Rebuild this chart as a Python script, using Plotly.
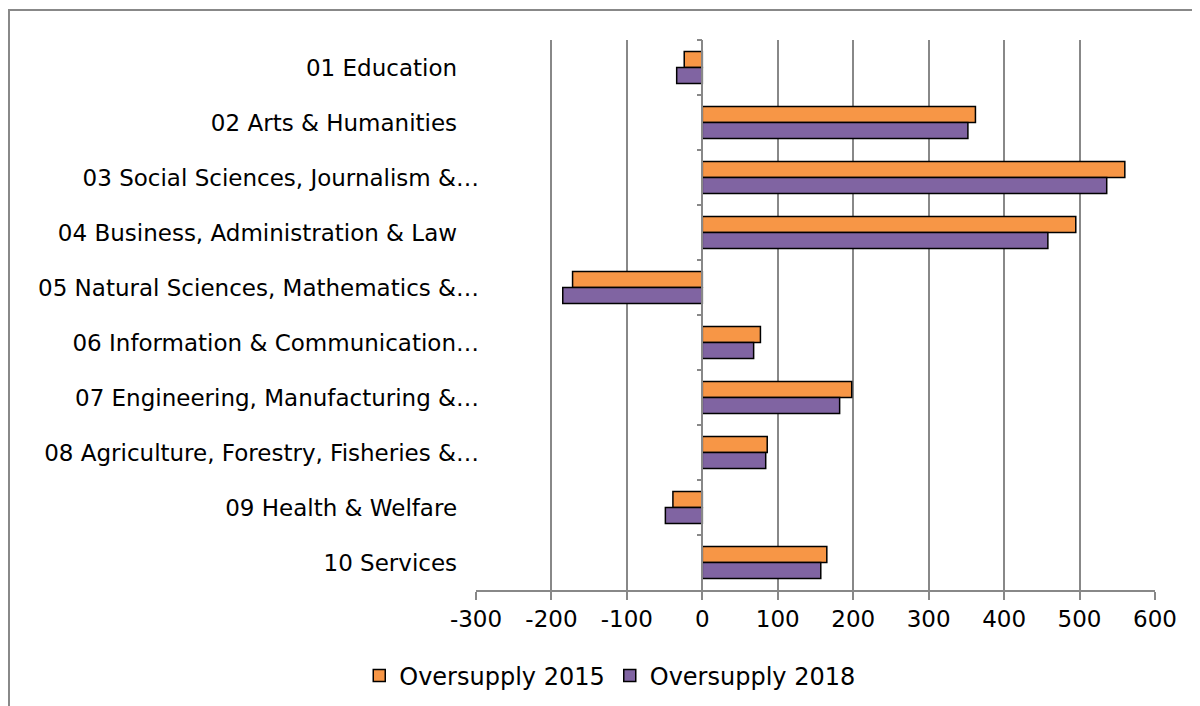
import plotly.graph_objects as go

categories = [
    "01 Education\u00a0\u00a0\u00a0",
    "02 Arts & Humanities\u00a0\u00a0\u00a0",
    "03 Social Sciences, Journalism &…",
    "04 Business, Administration & Law\u00a0\u00a0\u00a0",
    "05 Natural Sciences, Mathematics &…",
    "06 Information & Communication…",
    "07 Engineering, Manufacturing &…",
    "08 Agriculture, Forestry, Fisheries &…",
    "09 Health & Welfare\u00a0\u00a0\u00a0",
    "10 Services\u00a0\u00a0\u00a0",
]
oversupply_2015 = [-24, 362, 560, 495, -172, 77, 198, 86, -39, 165]
oversupply_2018 = [-34, 352, 536, 458, -185, 68, 182, 84, -49, 157]
x_ticks = [-300, -200, -100, 0, 100, 200, 300, 400, 500, 600]

FONT = "DejaVu Sans"
GRID = "#888888"

fig = go.Figure()
fig.add_trace(go.Bar(
    name="Oversupply 2015", x=oversupply_2015, y=categories, orientation="h",
    marker=dict(color="#F79646", line=dict(color="#000000", width=1.5)),
))
fig.add_trace(go.Bar(
    name="Oversupply 2018", x=oversupply_2018, y=categories, orientation="h",
    marker=dict(color="#8064A2", line=dict(color="#000000", width=1.5)),
))
# invisible helper trace for the category boundary ticks at x = 0
fig.add_trace(go.Scatter(
    x=[None] * len(categories), y=categories, yaxis="y2", mode="markers",
    showlegend=False, hoverinfo="skip",
))

fig.update_layout(
    width=1200, height=706,
    paper_bgcolor="white", plot_bgcolor="white",
    margin=dict(l=468, r=53, t=32, b=124, autoexpand=False),
    barmode="group", bargap=0.42, bargroupgap=0,
    font=dict(family=FONT, size=23, color="#000000"),
    xaxis=dict(
        range=[-300, 600], tickvals=x_ticks, ticktext=[str(v) for v in x_ticks],
        showgrid=True, gridcolor=GRID, gridwidth=1.5, zeroline=False,
        showline=True, linecolor=GRID, linewidth=1.5,
        ticks="outside", ticklen=8, tickcolor=GRID, tickwidth=1.5,
        tickfont=dict(family=FONT, size=23, color="#000000"),
    ),
    yaxis=dict(
        type="category", categoryorder="array", categoryarray=categories,
        range=[9.5, -0.5], showgrid=False, zeroline=False, showline=False,
        ticks="", ticklabelstandoff=-4,
        tickfont=dict(family=FONT, size=23, color="#000000"),
    ),
    yaxis2=dict(
        type="category", categoryorder="array", categoryarray=categories,
        overlaying="y", matches="y", anchor="free", position=1/3,
        side="left", showgrid=False, zeroline=False,
        showline=True, linecolor=GRID, linewidth=1.5,
        ticks="outside", tickson="boundaries", ticklen=5, tickcolor=GRID, tickwidth=1.5,
        showticklabels=False,
    ),
    legend=dict(
        orientation="h", x=0.197, xanchor="center", y=-0.156, yanchor="middle",
        font=dict(family=FONT, size=24, color="#000000"),
        itemwidth=30, traceorder="normal",
    ),
    showlegend=True,
)

fig.add_shape(
    type="rect", xref="paper", yref="paper",
    x0=-0.6878, y0=-0.5, x1=2, y1=1.0545,
    line=dict(color=GRID, width=2), fillcolor="rgba(0,0,0,0)", layer="below",
)

fig.write_html("out.html")
